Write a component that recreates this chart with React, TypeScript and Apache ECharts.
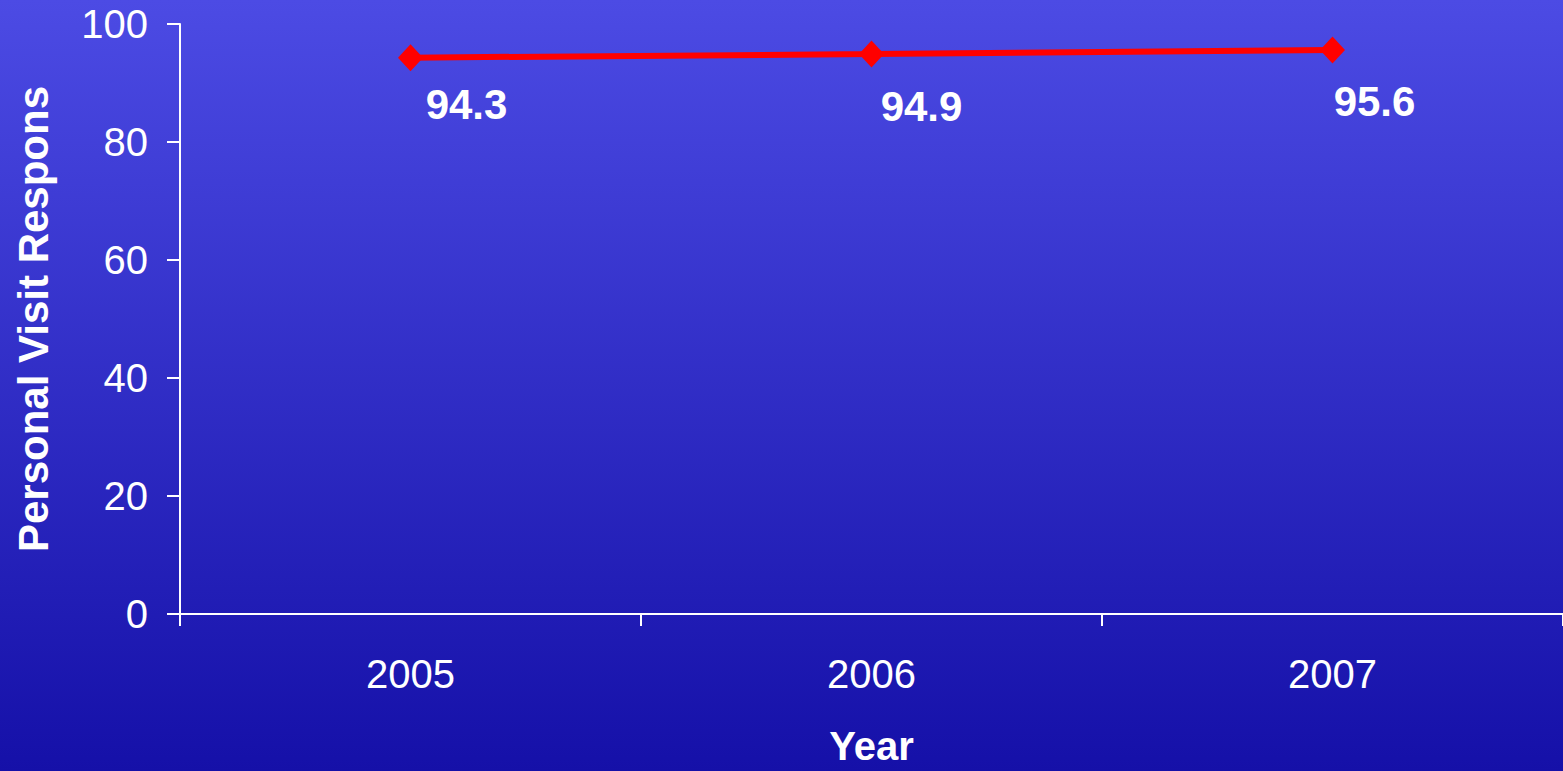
import React, { useEffect, useRef } from "react";
import * as echarts from "echarts";

const categories = ["2005", "2006", "2007"];
const responseRates = [94.3, 94.9, 95.6];
const yTicks = { min: 0, max: 100, interval: 20 };
const yAxisName = "Personal Visit Respons";
const xAxisName = "Year";
const labelOffsets = [
  [56, 7],
  [50, 13],
  [42, 12],
];

export default function App() {
  const ref = useRef<HTMLDivElement>(null);
  useEffect(() => {
    if (!ref.current) return;
    const chart = echarts.init(ref.current, null, { renderer: "svg" });
    const font = "'Liberation Sans', Arial, sans-serif";
    chart.setOption({
      animation: false,
      backgroundColor: new echarts.graphic.LinearGradient(0, 0, 0, 1, [
        { offset: 0, color: "#4c4be4" },
        { offset: 1, color: "#1510a8" },
      ]),
      grid: { left: 180, right: 0, top: 24, bottom: 151, containLabel: false },
      xAxis: {
        type: "category",
        data: categories,
        boundaryGap: true,
        name: xAxisName,
        nameLocation: "middle",
        nameGap: 112,
        nameTextStyle: { color: "#fff", fontSize: 40, fontWeight: "bold", fontFamily: font },
        axisLine: { lineStyle: { color: "#fff", width: 2 } },
        axisTick: { show: true, length: 12, lineStyle: { color: "#fff", width: 2 }, alignWithLabel: false },
        axisLabel: { color: "#fff", fontSize: 40, fontFamily: font, margin: 40 },
        splitLine: { show: false },
      },
      yAxis: {
        type: "value",
        min: yTicks.min,
        max: yTicks.max,
        interval: yTicks.interval,
        name: yAxisName,
        nameLocation: "middle",
        nameGap: 126,
        nameRotate: 90,
        nameTextStyle: { color: "#fff", fontSize: 42, fontWeight: "bold", fontFamily: font },
        axisLine: { show: true, lineStyle: { color: "#fff", width: 2 } },
        axisTick: { show: true, length: 13, lineStyle: { color: "#fff", width: 2 } },
        axisLabel: { color: "#fff", fontSize: 40, fontFamily: font, margin: 32 },
        splitLine: { show: false },
      },
      series: [
        {
          type: "line",
          data: responseRates.map((v, i) => ({
            value: v,
            label: { offset: labelOffsets[i] },
          })),
          symbol: "diamond",
          symbolSize: [25, 27],
          lineStyle: { color: "#ff0000", width: 6 },
          itemStyle: { color: "#ff0000" },
          label: {
            show: true,
            position: "bottom",
            color: "#fff",
            fontSize: 42,
            fontWeight: "bold",
            fontFamily: font,
            formatter: (p: any) => Number(p.value).toFixed(1),
          },
        },
      ],
    });
    return () => chart.dispose();
  }, []);
  return (
    <div
      ref={ref}
      style={{ width: 1563, height: 771, position: "fixed", left: 0, top: 0 }}
    />
  );
}
